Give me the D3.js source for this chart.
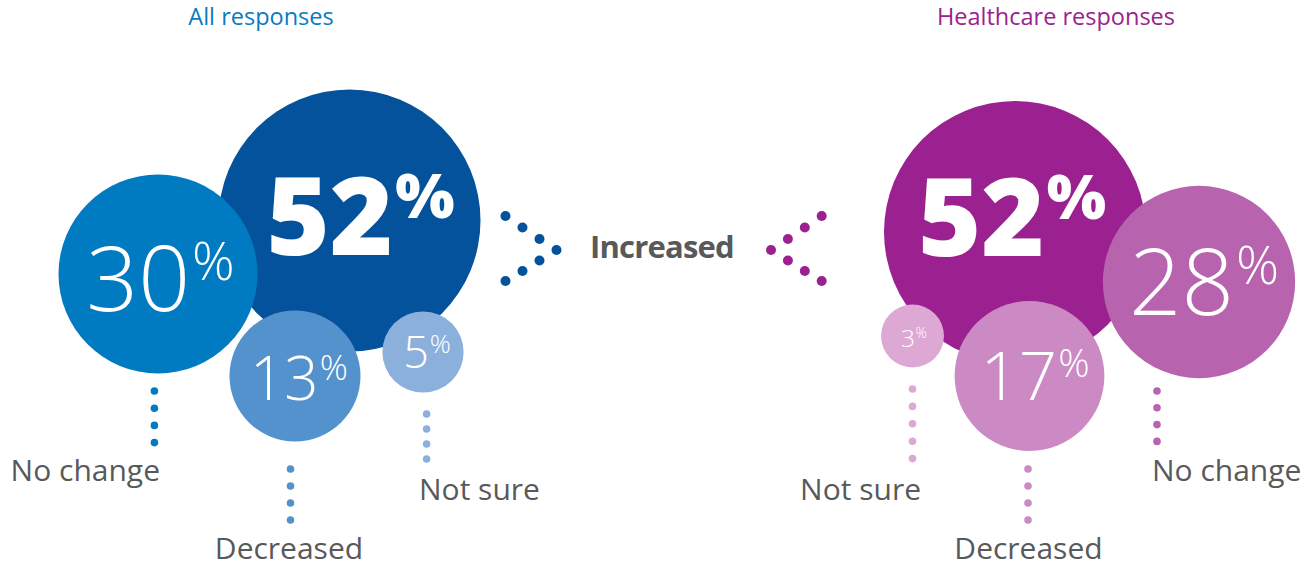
<!DOCTYPE html>
<html>
<head>
<meta charset="utf-8">
<script src="https://cdn.jsdelivr.net/npm/d3@7"></script>
<style>
  html, body { margin: 0; padding: 0; background: #ffffff; }
  svg { display: block; }
  text { font-family: "Open Sans", "Noto Sans", sans-serif; }
</style>
</head>
<body>
<svg id="chart" width="1303" height="566"></svg>
<script>
// Survey answers, in percent
const categories = ["Increased", "No change", "Decreased", "Not sure"];
const allResponses = [52, 30, 13, 5];
const healthcareResponses = [52, 28, 17, 3];
const groupTitles = ["All responses", "Healthcare responses"];
const centreLabel = "Increased";

// Colours per category for each group
const allColours = ["#04529c", "#007bc1", "#5492cd", "#8cb0dc"];
const healthColours = ["#9c2190", "#b863ae", "#cc8ac4", "#dea8d5"];
const titleColours = ["#0a7ac2", "#9c2190"];
const labelGrey = "#58595b";

// Bubble area is proportional to the share
const r = d3.scaleSqrt().domain([0, 52]).range([0, 131]);

// Bubble layout: centre, value text anchor (centre x / baseline y), digit size, weight
const allLayout = [
  { cx: 349.5, cy: 220.5, tx: 360.5, ty: 254.5, fs: 108, w: 800 },
  { cx: 158,   cy: 274,   tx: 160.5, ty: 311,   fs: 91,  w: 300 },
  { cx: 295,   cy: 376,   tx: 299,   ty: 400,   fs: 60,  w: 300 },
  { cx: 423,   cy: 352,   tx: 427,   ty: 368,   fs: 45,  w: 300 }
];
const healthLayout = [
  { cx: 1015,   cy: 232, tx: 1012, ty: 256,   fs: 108, w: 800 },
  { cx: 1199,   cy: 282, tx: 1204, ty: 315,   fs: 92,  w: 300 },
  { cx: 1029.5, cy: 376, tx: 1035, ty: 400,   fs: 67,  w: 300 },
  { cx: 912.5,  cy: 336, tx: 914,  ty: 346.6, fs: 24.5, w: 300 }
];

// Dotted leaders (index 0 is the "Increased" chevron, drawn separately)
const allLeaders = [
  null,
  { x: 154.4, y0: 391, n: 4, step: 17.2, lx: 160,   ly: 481, anchor: "end" },
  { x: 290.5, y0: 469, n: 4, step: 17,   lx: 289,   ly: 559, anchor: "middle" },
  { x: 426.6, y0: 414, n: 4, step: 15,   lx: 419,   ly: 500, anchor: "start" }
];
const healthLeaders = [
  null,
  { x: 1157,  y0: 391, n: 4, step: 16.8, lx: 1152,  ly: 481, anchor: "start" },
  { x: 1028,  y0: 469, n: 4, step: 17,   lx: 1028.5, ly: 559, anchor: "middle" },
  { x: 912.5, y0: 389, n: 5, step: 17.4, lx: 921,   ly: 500, anchor: "end" }
];

const svg = d3.select("#chart");

// Group titles
svg.selectAll("text.title")
  .data(groupTitles)
  .join("text")
  .attr("class", "title")
  .attr("x", (d, i) => [261, 1056][i])
  .attr("y", 24.5)
  .attr("text-anchor", "middle")
  .attr("font-size", 23.5)
  .attr("fill", (d, i) => titleColours[i])
  .text(d => d);

function drawGroup(values, colours, layout, leaders) {
  const rows = values.map((v, i) => ({ v, cat: categories[i], colour: colours[i], ...layout[i], lead: leaders[i] }));
  const g = svg.append("g");

  // Bubbles: largest first so smaller ones sit on top
  g.selectAll("circle.bubble")
    .data(rows)
    .join("circle")
    .attr("class", "bubble")
    .attr("cx", d => d.cx)
    .attr("cy", d => d.cy)
    .attr("r", d => r(d.v))
    .attr("fill", d => d.colour);

  // Value text: digits plus a raised percent sign, centred as a pair
  rows.forEach(d => {
    const t = g.append("g");
    const num = t.append("text")
      .attr("font-size", d.fs)
      .attr("font-weight", d.w)
      .attr("fill", "#fff")
      .text(d.v);
    const pct = t.append("text")
      .attr("font-size", d.fs * 0.58)
      .attr("font-weight", d.w)
      .attr("fill", "#fff")
      .text("%");
    const wn = num.node().getComputedTextLength();
    const wp = pct.node().getComputedTextLength();
    const gap = d.fs * 0.02;
    const x0 = d.tx - (wn + gap + wp) / 2;
    num.attr("x", x0).attr("y", d.ty);
    pct.attr("x", x0 + wn + gap).attr("y", d.ty - d.fs * 0.34);
  });

  // Leader dots and category labels
  rows.filter(d => d.lead).forEach(d => {
    const L = d.lead;
    g.selectAll(null)
      .data(d3.range(L.n))
      .join("circle")
      .attr("cx", L.x)
      .attr("cy", k => L.y0 + k * L.step)
      .attr("r", 3.8)
      .attr("fill", d.colour);
    g.append("text")
      .attr("x", L.lx)
      .attr("y", L.ly)
      .attr("text-anchor", L.anchor)
      .attr("font-size", 30)
      .attr("fill", labelGrey)
      .text(d.cat);
  });
}

drawGroup(allResponses, allColours, allLayout, allLeaders);
drawGroup(healthcareResponses, healthColours, healthLayout, healthLeaders);

// Chevrons of dots pointing at the shared "Increased" label
const chevronSteps = [0, 1, 2, 3, 2, 1, 0];
const chevronRows = [216, 227.5, 239, 250, 260.5, 271, 281];
svg.selectAll("circle.chevL")
  .data(chevronSteps)
  .join("circle")
  .attr("class", "chevL")
  .attr("cx", s => 505.5 + s * 17)
  .attr("cy", (s, i) => chevronRows[i])
  .attr("r", 5)
  .attr("fill", allColours[0]);
svg.selectAll("circle.chevR")
  .data(chevronSteps)
  .join("circle")
  .attr("class", "chevR")
  .attr("cx", s => 821.7 - s * 16.9)
  .attr("cy", (s, i) => chevronRows[i])
  .attr("r", 5)
  .attr("fill", healthColours[0]);

svg.append("text")
  .attr("x", 662)
  .attr("y", 258)
  .attr("text-anchor", "middle")
  .attr("font-size", 31)
  .attr("font-weight", 700)
  .attr("letter-spacing", -0.8)
  .attr("fill", labelGrey)
  .text(centreLabel);
</script>
</body>
</html>
